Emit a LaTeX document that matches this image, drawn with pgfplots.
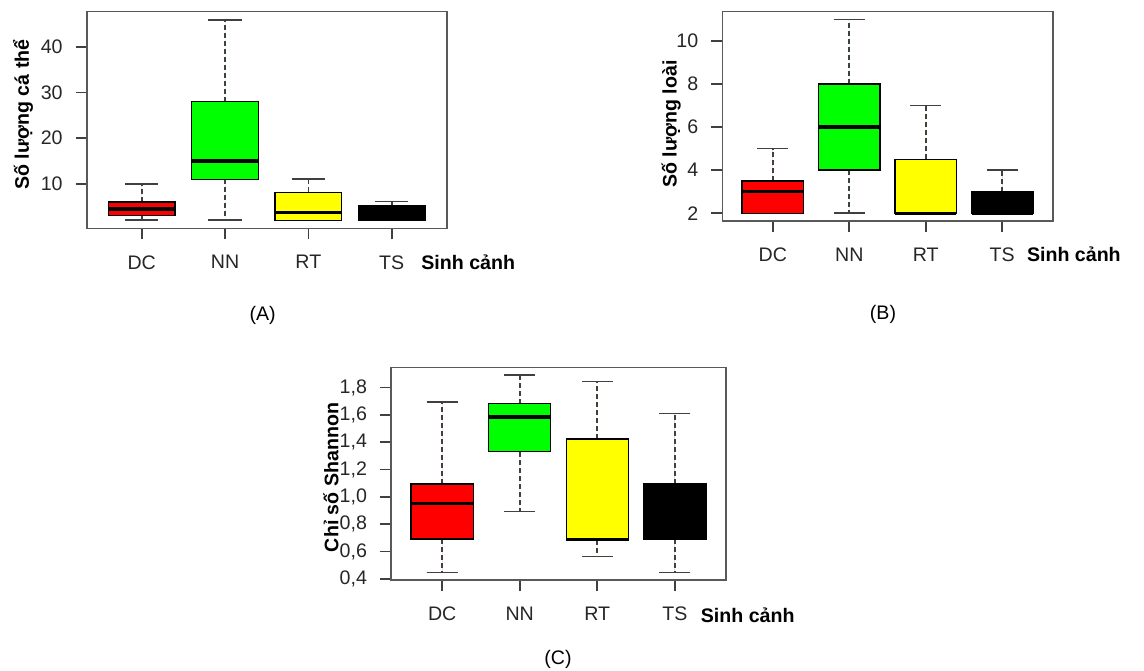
\documentclass[border=0pt]{standalone}
\usepackage{fontspec}
\setmainfont{Liberation Sans}
\usepackage{pgfplots}
\pgfplotsset{compat=1.18}
\usepgfplotslibrary{statistics}
\definecolor{rR}{RGB}{255,0,0}
\definecolor{rG}{RGB}{0,255,0}
\definecolor{rY}{RGB}{255,255,0}
\newcommand\f{\fontsize{9.8}{11.5}\selectfont}
\pgfplotsset{
  bx/.style={
    scale only axis, anchor=south west,
    font=\f,
    xmin=0.34, xmax=4.66,
    xtick={1,2,3,4}, xticklabels={DC,NN,RT,TS},
    tick pos=left, tick align=outside,
    major tick length=5.5pt,
    axis line style={black!65, line width=0.8pt},
    every tick/.style={black!75, line width=0.8pt},
    ticklabel style={font=\f, text=black!85},
    xticklabel style={yshift=-4.5pt},
    yticklabel style={xshift=-3pt},
    /pgf/number format/assume math mode=true,
    label style={font=\f\bfseries, text=black},
    ylabel style={anchor=center},
    xlabel style={anchor=base west},
    xlabel={Sinh cảnh},
    boxplot/draw direction=y,
    boxplot/every box/.style={line width=0.7pt},
    boxplot/every median/.style={line width=1.7pt},
    boxplot/every whisker/.style={line width=0.8pt, draw=black!75},
    boxplot/box extend=0.8,
    boxplot/whisker extend=0.4,
    boxplot/draw/lower whisker/.code={%
      \draw[/pgfplots/boxplot/every whisker, dash pattern=on 2.5pt off 1.5pt]
        (boxplot box cs:\pgfplotsboxplotvalue{lower quartile},0.5) --
        (boxplot box cs:\pgfplotsboxplotvalue{lower whisker},0.5);
      \draw[/pgfplots/boxplot/every whisker]
        (boxplot whisker cs:\pgfplotsboxplotvalue{lower whisker},0) --
        (boxplot whisker cs:\pgfplotsboxplotvalue{lower whisker},1);
    },
    boxplot/draw/upper whisker/.code={%
      \draw[/pgfplots/boxplot/every whisker, dash pattern=on 2.5pt off 1.5pt]
        (boxplot box cs:\pgfplotsboxplotvalue{upper quartile},0.5) --
        (boxplot box cs:\pgfplotsboxplotvalue{upper whisker},0.5);
      \draw[/pgfplots/boxplot/every whisker]
        (boxplot whisker cs:\pgfplotsboxplotvalue{upper whisker},0) --
        (boxplot whisker cs:\pgfplotsboxplotvalue{upper whisker},1);
    },
  },
  bdc/.style={fill=rR, draw=black},
  bnn/.style={fill=rG, draw=black},
  brt/.style={fill=rY, draw=black},
  bts/.style={fill=black, draw=black},
}
\begin{document}
\begin{tikzpicture}[font=\f]
\path[use as bounding box] (0,0) rectangle (572pt,335pt);
% (A)
\begin{axis}[bx, at={(43.35pt,220.85pt)}, width=180pt, height=108.3pt,
  ymin=0.24, ymax=47.76, ytick={10,20,30,40},
  ylabel={Số lượng cá thể},
  ylabel style={at={(axis description cs:-0.177,0.525)}},
  xlabel style={at={(axis description cs:0.910,-0.188)}}]
\addplot[bdc, boxplot prepared={draw position=1, lower whisker=2, lower quartile=3, median=4.5, upper quartile=6, upper whisker=10}] coordinates {};
\addplot[bnn, boxplot prepared={draw position=2, lower whisker=2, lower quartile=11, median=15, upper quartile=28, upper whisker=46}] coordinates {};
\addplot[brt, boxplot prepared={draw position=3, lower whisker=2, lower quartile=2, median=3.7, upper quartile=8.1, upper whisker=11}] coordinates {};
\addplot[bts, boxplot prepared={draw position=4, lower whisker=2, lower quartile=2, median=4, upper quartile=5.2, upper whisker=6.1}] coordinates {};
\end{axis}
% (B)
\begin{axis}[bx, at={(361.15pt,224.5pt)}, width=165.2pt, height=104.65pt,
  ymin=1.64, ymax=11.36, ytick={2,4,6,8,10},
  ylabel={Số lượng loài},
  ylabel style={at={(axis description cs:-0.155,0.463)}},
  xlabel style={at={(axis description cs:0.901,-0.194)}}]
\addplot[bdc, boxplot prepared={draw position=1, lower whisker=2, lower quartile=2, median=3, upper quartile=3.5, upper whisker=5}] coordinates {};
\addplot[bnn, boxplot prepared={draw position=2, lower whisker=2, lower quartile=4, median=6, upper quartile=8, upper whisker=11}] coordinates {};
\addplot[brt, boxplot prepared={draw position=3, lower whisker=2, lower quartile=2, median=2, upper quartile=4.5, upper whisker=7}] coordinates {};
\addplot[bts, boxplot prepared={draw position=4, lower whisker=2, lower quartile=2, median=2, upper quartile=3, upper whisker=4}] coordinates {};
\end{axis}
% (C)
\begin{axis}[bx, at={(195.5pt,45pt)}, width=167.5pt, height=106.35pt,
  ymin=0.392, ymax=1.948, ytick={0.4,0.6,0.8,1.0,1.2,1.4,1.6,1.8},
  yticklabel style={/pgf/number format/.cd, fixed, fixed zerofill, precision=1, use comma},
  ylabel={Chỉ số Shannon},
  ylabel style={at={(axis description cs:-0.179,0.482)}},
  xlabel style={at={(axis description cs:0.904,-0.201)}}]
\addplot[bdc, boxplot prepared={draw position=1, lower whisker=0.448, lower quartile=0.691, median=0.951, upper quartile=1.095, upper whisker=1.693}] coordinates {};
\addplot[bnn, boxplot prepared={draw position=2, lower whisker=0.893, lower quartile=1.330, median=1.583, upper quartile=1.683, upper whisker=1.89}] coordinates {};
\addplot[brt, boxplot prepared={draw position=3, lower whisker=0.564, lower quartile=0.686, median=0.69, upper quartile=1.423, upper whisker=1.844}] coordinates {};
\addplot[bts, boxplot prepared={draw position=4, lower whisker=0.448, lower quartile=0.691, median=0.8, upper quartile=1.095, upper whisker=1.61}] coordinates {};
\end{axis}
\node at (131.35pt,177.5pt) {(A)};
\node at (441.5pt,178pt) {(B)};
\node at (279pt,5.5pt) {(C)};
\end{tikzpicture}
\end{document}
